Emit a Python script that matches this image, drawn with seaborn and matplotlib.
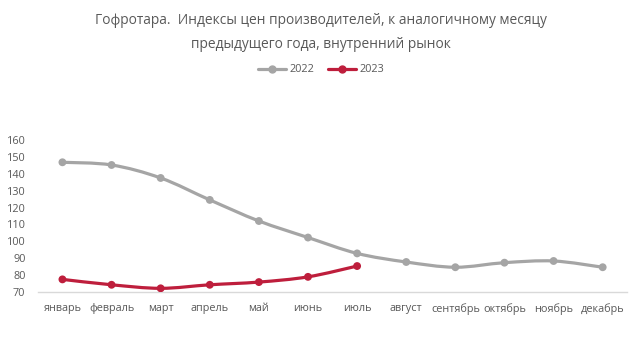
import matplotlib
matplotlib.use("Agg")
import matplotlib.pyplot as plt
from matplotlib.path import Path
from matplotlib.patches import PathPatch
from matplotlib.lines import Line2D
import numpy as np
import pandas as pd
import seaborn as sns

months = ["январь", "февраль", "март", "апрель", "май", "июнь", "июль",
          "август", "сентябрь", "октябрь", "ноябрь", "декабрь"]
idx_2022 = [146.8, 145.2, 137.5, 124.5, 112.0, 102.2, 92.8, 87.7, 84.6, 87.3, 88.3, 84.6]
idx_2023 = [77.4, 74.2, 72.1, 74.2, 75.8, 78.9, 85.3]
yticks = [70, 80, 90, 100, 110, 120, 130, 140, 150, 160]

title_lines = ["Гофротара.  Индексы цен производителей, к аналогичному месяцу",
               "предыдущего года, внутренний рынок"]
c2022 = "#A5A5A5"
c2023 = "#BE1E3C"
txt = "#595959"


def smooth_path(xs, ys):
    # bezier like excel smoothed line (catmull-rom)
    p = np.column_stack([xs, ys]).astype(float)
    ext = np.vstack([p[0], p, p[-1]])
    verts = [tuple(p[0])]
    codes = [Path.MOVETO]
    for i in range(len(p) - 1):
        p0, p1, p2, p3 = ext[i], ext[i + 1], ext[i + 2], ext[i + 3]
        verts += [tuple(p1 + (p2 - p0) / 6), tuple(p2 - (p3 - p1) / 6), tuple(p2)]
        codes += [Path.CURVE4] * 3
    return Path(verts, codes)


df = pd.concat([
    pd.DataFrame({"x": range(len(idx_2022)), "v": idx_2022, "year": "2022"}),
    pd.DataFrame({"x": range(len(idx_2023)), "v": idx_2023, "year": "2023"}),
])

sns.set_style("white")
plt.rcParams["font.family"] = ["Open Sans", "DejaVu Sans"]

fig = plt.figure(figsize=(6.42, 3.59), dpi=100)
ax = fig.add_axes([0.059, 0.187, 0.918, 0.423])

for yr, col in [("2022", c2022), ("2023", c2023)]:
    d = df[df.year == yr]
    ax.add_patch(PathPatch(smooth_path(d.x.values, d.v.values), fill=False,
                           edgecolor=col, lw=2.3, capstyle="round", zorder=2))
sns.scatterplot(data=df, x="x", y="v", hue="year", palette=[c2022, c2023],
                s=32, edgecolor="none", legend=False, ax=ax, zorder=3)

ax.set_xlim(-0.5, 11.5)
ax.set_ylim(70, 160)
ax.set_yticks(yticks)
ax.set_xticks(range(len(months)))
ax.set_xticklabels(months)
ax.set_xlabel("")
ax.set_ylabel("")
ax.tick_params(axis="both", length=0, labelsize=7.8, colors=txt)
ax.tick_params(axis="x", pad=8)
ax.tick_params(axis="y", pad=9)
for s in ["top", "right", "left"]:
    ax.spines[s].set_visible(False)
ax.spines["bottom"].set_color("#D9D9D9")
ax.spines["bottom"].set_linewidth(1)

fig.text(0.5, 1 - 20 / 359, title_lines[0], ha="center", va="center",
         fontsize=9.9, color=txt)
fig.text(0.5, 1 - 44 / 359, title_lines[1], ha="center", va="center",
         fontsize=9.9, color=txt)
handles = [Line2D([], [], color=c2022, lw=2.3, marker="o", markersize=5),
           Line2D([], [], color=c2023, lw=2.3, marker="o", markersize=5)]
fig.legend(handles, ["2022", "2023"], loc="center", bbox_to_anchor=(0.5, 1 - 70 / 359),
           ncol=2, frameon=False, fontsize=7.8, labelcolor=txt,
           handlelength=2.6, handletextpad=0.3, columnspacing=1.3)

fig.savefig("out.png", dpi=100)
